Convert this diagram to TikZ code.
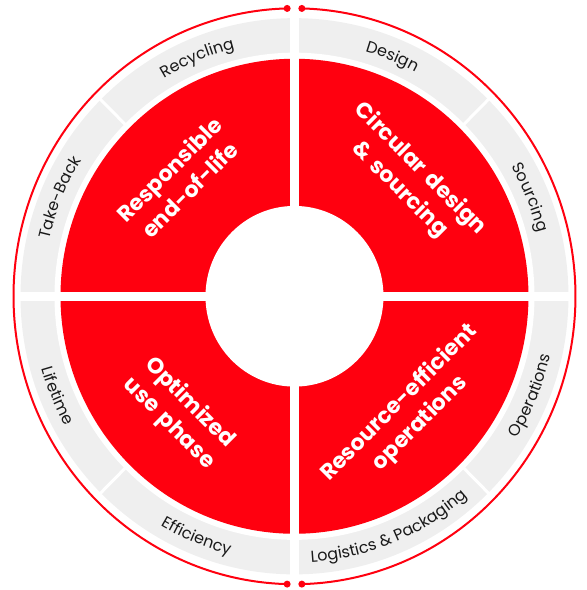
\documentclass[tikz,border=0pt]{standalone}
\usepackage{fontspec}
\setmainfont{Poppins}[BoldFeatures={WordSpace=1.6}]
\definecolor{abbred}{RGB}{255,0,15}
\definecolor{ringgray}{RGB}{239,239,239}
\definecolor{ringink}{RGB}{25,25,25}
\newdimen\ringlen
\newdimen\ringw
\newdimen\ringpos
\newcommand\ringfont{\fontsize{8}{10}\selectfont}
% name, word, its letters: offset of each letter from the middle of the word
\newcommand\measureword[3]{%
    \settowidth\ringlen{\ringfont #2}%
    \global\ringpos=0pt
    \foreach \ch [count=\i] in {#3}{%
        \settowidth\ringw{\ringfont\ch}%
        \pgfmathsetmacro\off{\the\ringlen/2-\the\ringpos-\the\ringw/2}%
        \expandafter\xdef\csname ring@#1@\i\endcsname{\off}%
        \global\advance\ringpos by \ringw
    }}
% name, radius, centre angle, 1 = clockwise / -1 = anticlockwise, letters
\newcommand\ringword[5]{%
    \foreach \ch [count=\i] in {#5}{%
        \pgfmathsetmacro\ang{#3+(#4)*\csname ring@#1@\i\endcsname/(#2*0.5)*57.2958}%
        \node[ringletter,rotate={\ang-(#4)*90}] (#1-\i) at (\ang:#2) {\ch};
    }}
\begin{document}
\measureword{recycling}{Recycling}{R,e,c,y,c,l,i,n,g}%
\measureword{design}{Design}{D,e,s,i,g,n}%
\measureword{sourcing}{Sourcing}{S,o,u,r,c,i,n,g}%
\measureword{takeback}{Take-Back}{T,a,k,e,-,B,a,c,k}%
\measureword{operations}{Operations}{O,p,e,r,a,t,i,o,n,s}%
\measureword{logistics}{Logistics \& Packaging}{L,o,g,i,s,t,i,c,s,\ ,\&,\ ,P,a,c,k,a,g,i,n,g}%
\measureword{efficiency}{Efficiency}{E,f,f,i,c,i,e,n,c,y}%
\measureword{lifetime}{Lifetime}{L,i,f,e,t,i,m,e}%
\begin{tikzpicture}[x=0.5pt,y=0.5075pt,
    quarter/.style={font=\bfseries\fontsize{11}{14.5}\selectfont,text=white,align=center},
    ringletter/.style={font=\ringfont,text=ringink,inner sep=0pt,outer sep=0pt,anchor=base}]

                \useasboundingbox (-294.5,-289.4) rectangle (292.5,291.9);

                \fill[ringgray] (0,0) circle (274);
                \fill[white] (0,0) circle (240);
                \fill[abbred] (0,0) circle (234);
                \fill[white] (0,0) circle (89);

                \draw[white,line width=4.5pt] (0:280) -- (180:280);
                \draw[white,line width=4.5pt] (90:280) -- (270:280);
                \foreach \a in {45,135,225,315}
                    \draw[white,line width=1.5pt] (\a:236) -- (\a:278);

                \draw[abbred,line width=1pt] (91.5:281 and 283.7) arc[start angle=91.5,end angle=268.5,x radius=281,y radius=283.7];
                \draw[abbred,line width=1pt] (88.5:281 and 283.7) arc[start angle=88.5,end angle=-88.5,x radius=281,y radius=283.7];
                \foreach \a in {91.5,88.5,268.5,271.5}
                    \fill[abbred] (\a:281 and 283.7) circle (1.75pt);

                \ringword{recycling}{251.5}{112.5}{1}{R,e,c,y,c,l,i,n,g}
                \ringword{design}{251.5}{67.5}{1}{D,e,s,i,g,n}
                \ringword{sourcing}{251.5}{22.5}{1}{S,o,u,r,c,i,n,g}
                \ringword{takeback}{251.5}{157.5}{1}{T,a,k,e,-,B,a,c,k}
                \ringword{operations}{262.5}{-22.5}{-1}{O,p,e,r,a,t,i,o,n,s}
                \ringword{logistics}{262.5}{-67.5}{-1}{L,o,g,i,s,t,i,c,s,\ ,\&,\ ,P,a,c,k,a,g,i,n,g}
                \ringword{efficiency}{262.5}{-112.5}{-1}{E,f,f,i,c,i,e,n,c,y}
                \ringword{lifetime}{262.5}{-157.5}{-1}{L,i,f,e,t,i,m,e}

                \node[quarter,rotate=45] (endoflife) at (135:163) {Responsible\\end-of-life};
                \node[quarter,rotate=-45] (circular) at (45:163) {Circular design\\\& sourcing};
                \node[quarter,rotate=-45] (usephase) at (225:163) {Optimized\\use phase};
                \node[quarter,rotate=45] (resource) at (315:163) {Resource-efficient\\operations};

\end{tikzpicture}
\end{document}
